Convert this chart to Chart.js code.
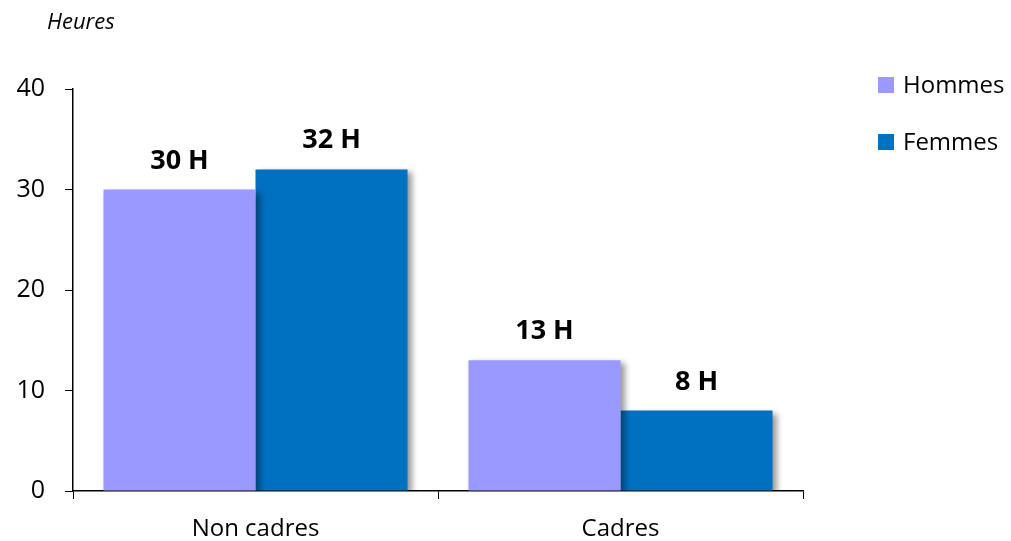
<!DOCTYPE html>
<html>
<head>
<meta charset="utf-8">
<script src="https://cdn.jsdelivr.net/npm/chart.js@4"></script>
<style>
  body { margin: 0; background: #fff; }
  #wrap { width: 1011px; height: 541px; }
</style>
</head>
<body>
<div id="wrap"><canvas id="heuresChart" width="1011" height="541"></canvas></div>
<script>
// Données
const categories = ['Non cadres', 'Cadres'];
const hommes = [30, 13];
const femmes = [32, 8];
const yTicks = [0, 10, 20, 30, 40];
const uniteTitre = 'Heures';

const couleurs = { hommes: '#9999FF', femmes: '#0070C0' };
const police = "'Open Sans', sans-serif";

// ombre sous les barres
const ombre = {
    id: 'ombre',
    beforeDatasetDraw(chart) {
        const ctx = chart.ctx;
        ctx.save();
        ctx.shadowColor = 'rgba(0,0,0,0.4)';
        ctx.shadowBlur = 6;
        ctx.shadowOffsetX = 4;
        ctx.shadowOffsetY = 3;
    },
    afterDatasetDraw(chart) {
        chart.ctx.restore();
    }
};

// étiquettes "30 H" au-dessus des barres
const etiquettes = {
    id: 'etiquettes',
    afterDatasetsDraw(chart) {
        const ctx = chart.ctx;
        ctx.save();
        ctx.font = 'bold 27px ' + police;
        ctx.fillStyle = '#000';
        ctx.textAlign = 'center';
        ctx.textBaseline = 'alphabetic';
        chart.data.datasets.forEach((ds, i) => {
            chart.getDatasetMeta(i).data.forEach((bar, j) => {
                ctx.fillText(ds.data[j] + ' H', bar.x, bar.y - 21);
            });
        });
        ctx.restore();
    }
};

// titre d'unité + légende à droite
const annotations = {
    id: 'annotations',
    afterDraw(chart) {
        const ctx = chart.ctx;
        ctx.save();
        ctx.fillStyle = '#000';
        ctx.font = 'italic 22px ' + police;
        ctx.textBaseline = 'middle';
        ctx.fillText(uniteTitre, 47, 23);

        ctx.font = '24px ' + police;
        chart.data.datasets.forEach((ds, i) => {
            const y = 85 + i * 57;
            ctx.fillStyle = ds.backgroundColor;
            ctx.fillRect(878, y - 8, 16, 16);
            ctx.fillStyle = '#000';
            ctx.fillText(ds.label, 903, y + 1);
        });
        ctx.restore();
    }
};

new Chart(document.getElementById('heuresChart'), {
    type: 'bar',
    data: {
        labels: categories,
        datasets: [{
            label: 'Hommes',
            data: hommes,
            backgroundColor: couleurs.hommes
        }, {
            label: 'Femmes',
            data: femmes,
            backgroundColor: couleurs.femmes
        }]
    },
    options: {
        responsive: false,
        animation: false,
        layout: { padding: { top: 89, right: 208, left: 0, bottom: 0 } },
        plugins: {
            legend: { display: false },
            tooltip: { enabled: false }
        },
        datasets: {
            bar: { categoryPercentage: 0.833, barPercentage: 1.0 }
        },
        scales: {
            x: {
                grid: {
                    offset: true,
                    drawOnChartArea: false,
                    drawTicks: true,
                    tickLength: 8,
                    color: '#000'
                },
                border: { color: '#000', width: 1.5 },
                ticks: {
                    color: '#000',
                    font: { family: police, size: 24 },
                    padding: 16
                },
                afterFit(s) { s.height = 50; }
            },
            y: {
                min: 0,
                max: 40,
                afterBuildTicks(s) { s.ticks = yTicks.map(v => ({ value: v })); },
                grid: {
                    drawOnChartArea: false,
                    drawTicks: true,
                    tickLength: 8,
                    color: '#000'
                },
                border: { color: '#000', width: 1.5 },
                ticks: {
                    color: '#000',
                    font: { family: police, size: 25 },
                    padding: 20
                },
                afterFit(s) { s.width = 73; }
            }
        }
    },
    plugins: [ombre, etiquettes, annotations]
});
</script>
</body>
</html>
